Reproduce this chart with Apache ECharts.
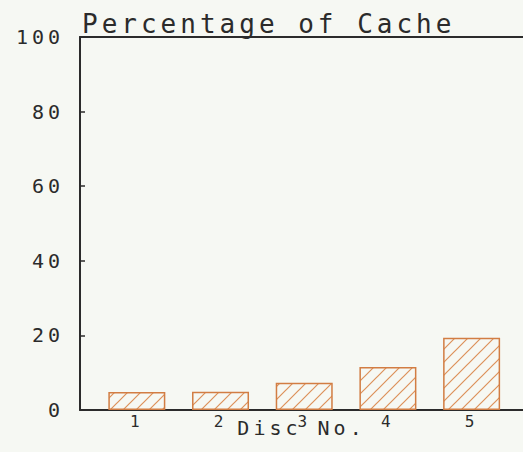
<!DOCTYPE html>
<html>
<head>
<meta charset="utf-8">
<script src="https://cdn.jsdelivr.net/npm/echarts@6/dist/echarts.min.js"></script>
<style>
html,body{margin:0;padding:0;background:#f6f8f3;}
#main{width:523px;height:452px;}
/* plotter-style wide lettering */
#main text{letter-spacing:4px;}
</style>
</head>
<body>
<div id="main"></div>
<script>
var discs = [1, 2, 3, 4, 5];
var cachePct = [4.8, 4.9, 7.3, 11.5, 19.4];
var yTicks = [0, 20, 40, 60, 80, 100];

var ink = '#2b2b2b';
var hatchColor = '#dc915a';
var edgeColor = '#d27d43';
var mono = '"DejaVu Sans Mono", "Liberation Mono", monospace';

// diagonal hatch tile
function makeHatch() {
    var s = 13;
    var c = document.createElement('canvas');
    c.width = s; c.height = s;
    var ctx = c.getContext('2d');
    ctx.strokeStyle = hatchColor;
    ctx.lineWidth = 1.2;
    ctx.beginPath();
    ctx.moveTo(-1, s + 1); ctx.lineTo(s + 1, -1);
    ctx.moveTo(-2, 2); ctx.lineTo(2, -2);
    ctx.moveTo(s - 2, s + 2); ctx.lineTo(s + 2, s - 2);
    ctx.stroke();
    return c;
}

var barData = discs.map(function (d, i) { return [d, cachePct[i]]; });

var chart = echarts.init(document.getElementById('main'), null, {renderer: 'svg'});
chart.setOption({
    animation: false,
    backgroundColor: '#f6f8f3',
    title: {
        text: 'Percentage of Cache',
        left: 77,
        top: 6,
        textStyle: {
            fontFamily: mono,
            fontSize: 26,
            fontWeight: 'normal',
            color: ink
        }
    },
    grid: {
        left: 80,
        right: 0,
        top: 37,
        bottom: 42
    },
    xAxis: [{
        type: 'value',
        min: 0.321,
        max: 5.614,
        position: 'bottom',
        splitLine: {show: false},
        axisTick: {show: false},
        axisLine: {show: true, lineStyle: {color: ink, width: 2}},
        axisLabel: {
            customValues: discs,
            margin: 3,
            fontFamily: mono,
            fontSize: 16,
            color: ink
        },
        name: 'Disc No.',
        nameLocation: 'middle',
        nameGap: 8,
        nameMoveOverlap: false,
        nameTextStyle: {
            fontFamily: mono,
            fontSize: 20,
            color: ink
        }
    }, {
        type: 'value',
        min: 0.321,
        max: 5.614,
        position: 'top',
        splitLine: {show: false},
        axisTick: {show: false},
        axisLabel: {show: false},
        axisLine: {show: true, lineStyle: {color: ink, width: 2}}
    }],
    yAxis: {
        type: 'value',
        min: 0,
        max: 100,
        interval: 20,
        splitLine: {show: false},
        axisLine: {show: true, lineStyle: {color: ink, width: 2}},
        axisTick: {show: true, inside: true, length: 5, lineStyle: {color: ink, width: 1.5}},
        axisLabel: {
            customValues: yTicks,
            margin: 16,
            fontFamily: mono,
            fontSize: 20,
            color: ink
        }
    },
    series: [{
        type: 'bar',
        xAxisIndex: 0,
        barWidth: 57,
        itemStyle: {
            color: {image: makeHatch(), repeat: 'repeat'},
            borderColor: edgeColor,
            borderWidth: 1.5
        },
        data: barData
    }]
});
</script>
</body>
</html>
